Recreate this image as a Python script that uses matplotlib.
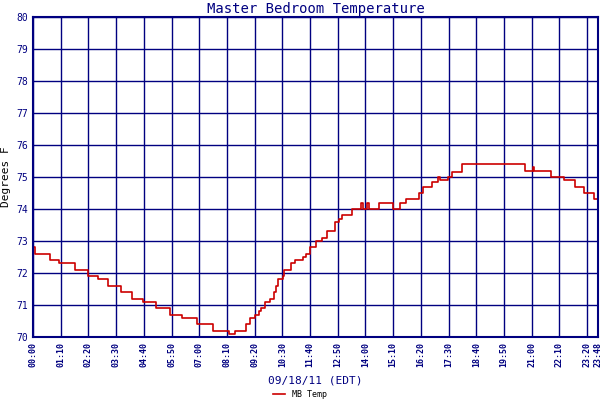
import matplotlib
matplotlib.use('Agg')
import matplotlib.pyplot as plt

# minutes after midnight, temperature (deg F), step changes
minutes = [0, 5, 43, 66, 106, 139, 165, 190, 223, 251, 279, 312, 347, 377, 415,
           456, 494, 511, 537, 549, 560, 570, 575, 587, 600, 608, 613, 620, 631,
           633, 651, 663, 681, 691, 699, 714, 729, 744, 762, 772, 780, 805, 828,
           835, 843, 848, 874, 909, 927, 942, 975, 985, 1008, 1023, 1028, 1048,
           1058, 1084, 1243, 1263, 1266, 1309, 1342, 1370, 1393, 1418, 1428]
temps = [72.8, 72.6, 72.4, 72.3, 72.1, 71.9, 71.8, 71.6, 71.4, 71.2, 71.1, 70.9,
         70.7, 70.6, 70.4, 70.2, 70.1, 70.2, 70.4, 70.6, 70.7, 70.8, 70.9, 71.1,
         71.2, 71.4, 71.6, 71.8, 71.9, 72.1, 72.3, 72.4, 72.5, 72.6, 72.8, 73.0,
         73.1, 73.3, 73.6, 73.7, 73.8, 74.0, 74.2, 74.0, 74.2, 74.0, 74.2, 74.0,
         74.2, 74.3, 74.5, 74.7, 74.85, 75.0, 74.9, 75.0, 75.15, 75.4, 75.2, 75.3,
         75.2, 75.0, 74.9, 74.7, 74.5, 74.3, 74.3]

tick_min = list(range(0, 1401, 70)) + [1428]
tick_lab = ['%02d:%02d' % (m // 60, m % 60) for m in tick_min]

navy = '#000080'
plt.rcParams['font.family'] = 'DejaVu Sans Mono'

fig = plt.figure(figsize=(6, 4), dpi=100)
ax = fig.add_axes([0.055, 0.1575, 0.942, 0.8])
ax.step(minutes, temps, where='post', color='#cc0000', lw=1.2, label='MB Temp')
ax.set_xlim(0, 1428)
ax.set_ylim(70, 80)
ax.set_yticks(range(70, 81))
ax.set_xticks(tick_min)
ax.set_xticklabels(tick_lab, rotation=90, fontsize=6, color=navy, fontweight='bold')
ax.tick_params(axis='y', labelsize=7, labelcolor=navy, length=0)
ax.tick_params(axis='x', length=0)
ax.grid(True, color=navy, lw=1)
for s in ax.spines.values():
    s.set_color(navy)
    s.set_linewidth(1.5)
ax.set_title('Master Bedroom Temperature', color=navy, fontsize=10, pad=3)
ax.set_ylabel('Degrees F', fontsize=8, labelpad=4)
ax.set_xlabel('09/18/11 (EDT)', color=navy, fontsize=8, labelpad=6)
fig.legend(loc='lower center', bbox_to_anchor=(0.5, -0.01), frameon=False,
           fontsize=6, handlelength=1.5, borderpad=0.1)

fig.savefig('out.png', dpi=100)
